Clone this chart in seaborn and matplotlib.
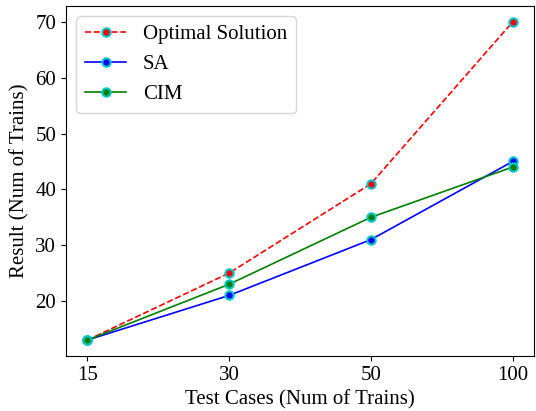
import matplotlib
matplotlib.use("Agg")
import matplotlib.pyplot as plt
import seaborn as sns
import pandas as pd

plt.rcParams['font.family'] = ['Liberation Serif', 'DejaVu Serif']

cases = ["15", "30", "50", "100"]
optimal = [13, 25, 41, 70]
sa = [13, 21, 31, 45]
cim = [13, 23, 35, 44]

fig = plt.figure(figsize=(5.36, 4.11), dpi=100)
ax = fig.add_axes([66/536, 1 - 356/411, (534 - 66)/536, (356 - 6)/411])

common = dict(marker="o", markersize=6, markeredgecolor="#00c8c8", markeredgewidth=1.5, linewidth=1.2, ax=ax)
sns.lineplot(x=cases, y=optimal, color="red", linestyle="--", label="Optimal Solution", **common)
sns.lineplot(x=cases, y=sa, color="blue", label="SA", **common)
sns.lineplot(x=cases, y=cim, color="green", label="CIM", **common)

ax.set_xlabel("Test Cases (Num of Trains)", fontsize=15)
ax.set_ylabel("Result (Num of Trains)", fontsize=15)
ax.tick_params(labelsize=15)
ax.set_yticks([20, 30, 40, 50, 60, 70])
ax.legend(loc="upper left", fontsize=15)

fig.savefig("out.png", dpi=100)
